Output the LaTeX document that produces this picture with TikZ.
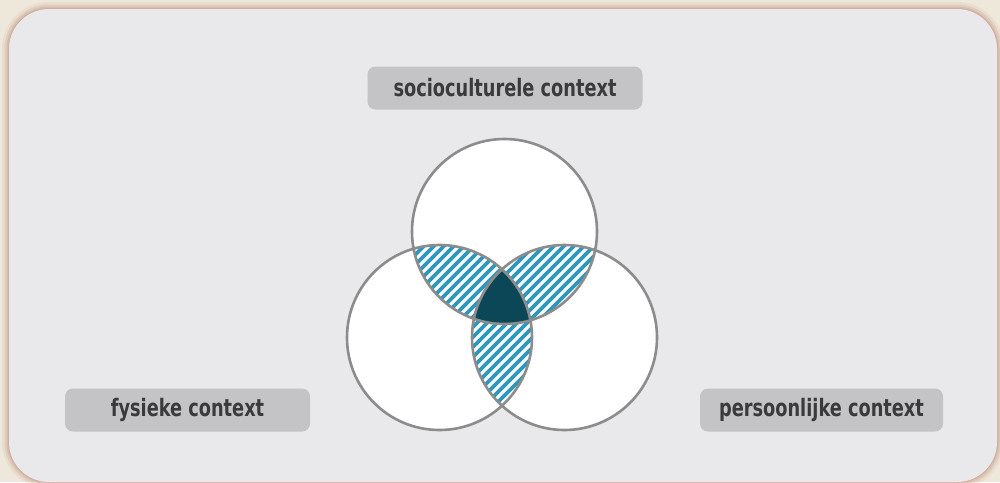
\documentclass[tikz,border=0pt]{standalone}
\usepackage{fontspec}
\newfontfamily\labfont[FakeStretch=0.74]{DejaVu Sans}
\definecolor{bgout}{HTML}{EEE8DA}
\definecolor{rim}{HTML}{C9A090}
\definecolor{panel}{HTML}{E9E9EB}
\definecolor{boxfill}{HTML}{C4C4C6}
\definecolor{labtext}{HTML}{3A3A3C}
\definecolor{ring}{HTML}{8C8C8C}
\definecolor{hatch}{HTML}{2E97BC}
\definecolor{core}{HTML}{0C4757}
\tikzset{
  labelbox/.style={fill=boxfill, rounded corners=8pt, minimum height=43pt, inner sep=0pt,
    text=labtext, font=\labfont\bfseries\fontsize{24}{26}\selectfont},
  ringline/.style={draw=ring, line width=2.6pt},
  glow/.style={draw=rim, rounded corners=40pt},
}
\begin{document}
\begin{tikzpicture}[x=1pt,y=-1pt]
\useasboundingbox (0,0) rectangle (1000,482);
\fill[bgout] (0,0) rectangle (1000,482);
\draw[glow, line width=14pt, opacity=0.15] (9,9) rectangle (997,482);
\draw[glow, line width=9pt, opacity=0.25] (9,9) rectangle (997,482);
\draw[glow, line width=5pt, opacity=0.35] (9,9) rectangle (997,482);
\draw[glow, line width=2pt, opacity=0.45] (9,9) rectangle (997,482);
\fill[panel, rounded corners=40pt] (9,9) rectangle (997,482);
% circles
\coordinate (T) at (504.5,231.5);
\coordinate (L) at (439.5,337.5);
\coordinate (R) at (564.5,337.5);
\fill[white] (T) circle (92.5) (L) circle (92.5) (R) circle (92.5);
% hatching on pairwise overlaps
\foreach \a/\b in {T/L,T/R,L/R}{
  \begin{scope}
    \clip (\a) circle (92.5);
    \clip (\b) circle (92.5);
    \foreach \k in {-40,...,40}{
      \draw[hatch, line width=3.6pt] (300+\k*10,460) -- (300+\k*10+300,160);
    }
  \end{scope}
}
\begin{scope}
  \clip (T) circle (92.5);
  \clip (L) circle (92.5);
  \fill[core] (R) circle (92.5);
\end{scope}
\draw[ringline] (T) circle (92.5) (L) circle (92.5) (R) circle (92.5);
% labels
\node[labelbox, minimum width=275pt] (soc) at (505,88) {socioculturele context};
\node[labelbox, minimum width=245pt] (fys) at (187.5,410) {fysieke context};
\node[labelbox, minimum width=243pt] (per) at (821.5,410) {persoonlijke context};
\end{tikzpicture}
\end{document}
